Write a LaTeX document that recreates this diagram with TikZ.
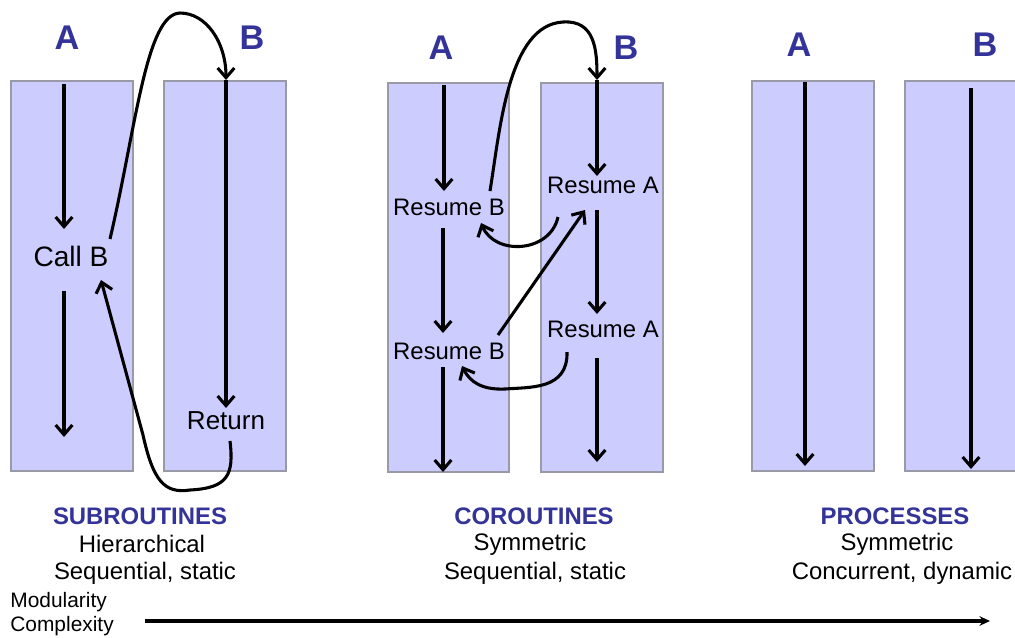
\documentclass[tikz,border=0pt]{standalone}
\usepackage{fontspec}
\setmainfont{Liberation Sans}
\usetikzlibrary{arrows.meta}
\definecolor{lanefill}{HTML}{CCCCFF}
\definecolor{laneedge}{HTML}{9999A8}
\definecolor{headblue}{HTML}{333399}
\tikzset{
  lane/.style={fill=lanefill, draw=laneedge, line width=0.9pt},
  flow/.style={line width=1.75pt, -{Straight Barb[length=5.5pt,width=9.5pt,line width=1.75pt]}},
  lanehead/.style={font=\fontsize{19.5}{22}\selectfont\bfseries, text=headblue, inner sep=0pt},
  steplabel/.style={font=\fontsize{13.6}{16}\selectfont, inner sep=0pt},
  biglabel/.style={font=\fontsize{16}{18}\selectfont, inner sep=0pt},
  retlabel/.style={font=\fontsize{14.8}{17}\selectfont, inner sep=0pt},
  kindtitle/.style={font=\fontsize{13.6}{16}\selectfont\bfseries, text=headblue, inner sep=0pt},
  kindtext/.style={font=\fontsize{13.6}{16}\selectfont, inner sep=0pt},
  axistext/.style={font=\fontsize{11.9}{14}\selectfont, inner sep=0pt, anchor=west},
}
\begin{document}
\begin{tikzpicture}[x=0.02cm, y=-0.02cm]
\clip (0,0) rectangle (1015,637);
\useasboundingbox (0,0) rectangle (1015,637);

% ---------- lanes ----------
\draw[lane] (11,81) rectangle (133,471);
\draw[lane] (164,81) rectangle (286,471);
\draw[lane] (388,83) rectangle (509,472);
\draw[lane] (541,83) rectangle (663,472);
\draw[lane] (752,81) rectangle (874,471);
\draw[lane] (905,81) rectangle (1027,471);

% ---------- lane headings ----------
\node[lanehead] (sA) at (67,38) {A};
\node[lanehead] (sB) at (252,38) {B};
\node[lanehead] (cA) at (441,48) {A};
\node[lanehead] (cB) at (626,48) {B};
\node[lanehead] (pA) at (799,45) {A};
\node[lanehead] (pB) at (985,45) {B};

% ---------- subroutines ----------
\node[biglabel] (callB) at (71,256) {Call B};
\node[retlabel] (ret) at (226,421) {Return};
\coordinate (sA1) at (64,84);  \coordinate (sA2) at (64,229);
\coordinate (sA3) at (64,291); \coordinate (sA4) at (64,437);
\coordinate (sB1) at (226,80); \coordinate (sB2) at (226,408);
\coordinate (callOut) at (110,239);
\coordinate (callIn) at (101,280);
\coordinate (retOut) at (230,441);

\draw[flow] (sA1) -- (sA2);
\draw[flow] (sA3) -- (sA4);
\draw[flow] (sB1) -- (sB2);
\draw[flow] (callOut) .. controls (136,128) and (146,14) .. (180,13)
  .. controls (206,13) and (226,42) .. (sB1);
\draw[flow] (retOut) .. controls (234,475) and (228,488) .. (190,490)
  .. controls (164,494) and (153,480) .. (143,435) -- (callIn);

% ---------- coroutines ----------
\node[steplabel] (rB1) at (449,207) {Resume B};
\node[steplabel] (rB2) at (449,351) {Resume B};
\node[steplabel] (rA1) at (603,185) {Resume A};
\node[steplabel] (rA2) at (603,329) {Resume A};
\coordinate (cA1) at (444,85);  \coordinate (cA2) at (444,191);
\coordinate (cA3) at (443,228); \coordinate (cA4) at (443,333);
\coordinate (cA5) at (443,367); \coordinate (cA6) at (443,472);
\coordinate (cB1) at (597,80);  \coordinate (cB2) at (597,176);
\coordinate (cB3) at (597,210); \coordinate (cB4) at (597,314);
\coordinate (cB5) at (597,358); \coordinate (cB6) at (597,462);

\draw[flow] (cA1) -- (cA2);
\draw[flow] (cA3) -- (cA4);
\draw[flow] (cA5) -- (cA6);
\draw[flow] (cB1) -- (cB2);
\draw[flow] (cB3) -- (cB4);
\draw[flow] (cB5) -- (cB6);

\coordinate (rB1out) at (490,191);
\coordinate (rA1out) at (558,217);
\coordinate (rB1in) at (481,223);
\coordinate (rB2out) at (498,335);
\coordinate (rA1in) at (585,210);
\coordinate (rA2out) at (567,352);
\coordinate (rB2in) at (462,366);

\draw[flow] (rB1out) .. controls (500,130) and (508,25) .. (563,22)
  .. controls (595,20) and (597,50) .. (cB1);
\draw[flow] (rA1out) .. controls (550,253) and (495,256) .. (rB1in);
\draw[flow] (rB2out) -- (rA1in);
\draw[flow] (rA2out) .. controls (568,390) and (530,387) .. (505,389)
  .. controls (482,390) and (470,382) .. (rB2in);

% ---------- processes ----------
\coordinate (pA1) at (805,82); \coordinate (pA2) at (805,466);
\coordinate (pB1) at (971,88); \coordinate (pB2) at (971,469);
\draw[flow] (pA1) -- (pA2);
\draw[flow] (pB1) -- (pB2);

% ---------- captions ----------
\node[kindtitle] (t1) at (140,516) {SUBROUTINES};
\node[kindtext] (t1a) at (142,544) {Hierarchical};
\node[kindtext] (t1b) at (145,573) {Sequential, static};
\node[kindtitle] (t2) at (534,516) {COROUTINES};
\node[kindtext] (t2a) at (530,544) {Symmetric};
\node[kindtext] (t2b) at (535,573) {Sequential, static};
\node[kindtitle] (t3) at (895,516) {PROCESSES};
\node[kindtext] (t3a) at (897,544) {Symmetric};
\node[kindtext] (t3b) at (902,573) {Concurrent, dynamic};

% ---------- axis ----------
\node[axistext] (mod) at (10,602) {Modularity};
\node[axistext] (cpx) at (10,626) {Complexity};
\coordinate (ax0) at (145,621);
\coordinate (ax1) at (990,621);
\draw[line width=2pt, -{Stealth[length=6pt,width=5.5pt]}] (ax0) -- (ax1);
\end{tikzpicture}
\end{document}
